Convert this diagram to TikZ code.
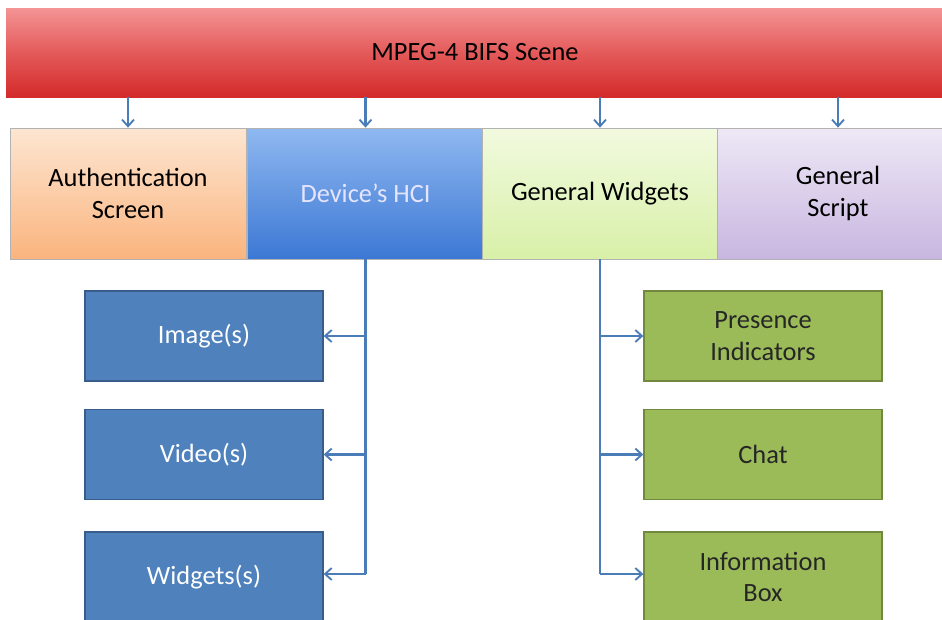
\documentclass[tikz,border=0pt]{standalone}
\usepackage{fontspec}
\setmainfont{Carlito}
\usetikzlibrary{arrows.meta}
\definecolor{arrowc}{HTML}{4A7DB8}
\definecolor{bluebox}{HTML}{4F81BD}
\definecolor{blueedge}{HTML}{385D8A}
\definecolor{greenbox}{HTML}{9BBB59}
\definecolor{greenedge}{HTML}{71893F}
\definecolor{redtop}{HTML}{F49494}
\definecolor{redmid}{HTML}{E45A5A}
\definecolor{redbot}{HTML}{D42A2A}
\definecolor{authtop}{HTML}{FDE6D2}
\definecolor{authbot}{HTML}{FAB47E}
\definecolor{devtop}{HTML}{8FB8F0}
\definecolor{devbot}{HTML}{3C78D4}
\definecolor{gwtop}{HTML}{F2FADF}
\definecolor{gwbot}{HTML}{D8F0A8}
\definecolor{gstop}{HTML}{EEE8F6}
\definecolor{gsbot}{HTML}{C8B6E0}
\tikzset{
  lbl/.style={font=\fontsize{19.8}{23.5}\selectfont, align=center, inner sep=0pt},
  banner/.style={lbl, minimum width=703.5pt, minimum height=66.75pt,
    top color=redtop, bottom color=redbot, middle color=redmid, draw=none},
  tier/.style={lbl, minimum width=177pt, minimum height=98.25pt, draw=gray!60, line width=0.6pt},
  leaf/.style={lbl, minimum width=178.5pt, minimum height=67.5pt, line width=1pt},
  bleaf/.style={leaf, fill=bluebox, draw=blueedge, text=white},
  gleaf/.style={leaf, fill=greenbox, draw=greenedge, text=black!85},
  arr/.style={draw=arrowc, line width=1.6pt, -{Straight Barb[length=5pt,width=9pt,line width=1.4pt]}},
  trunk/.style={draw=arrowc, line width=1.6pt}
}
\begin{document}
\begin{tikzpicture}[x=0.75pt,y=-0.75pt]
\useasboundingbox (0,0) rectangle (942,619);
\clip (0,0) rectangle (942,619);
\fill[white] (0,0) rectangle (942,619);
% banner
\node[banner] (ban) at (475,52.5) {MPEG-4 BIFS Scene};
% second tier
\node[tier, top color=authtop, bottom color=authbot] (auth) at (128,193.5) {Authentication\\Screen};
\node[tier, top color=devtop, bottom color=devbot, text=white!90!blue] (dev) at (365.5,193.5) {Device's HCI};
\node[tier, top color=gwtop, bottom color=gwbot] (gw) at (600,193.5) {General Widgets};
\node[tier, top color=gstop, bottom color=gsbot, minimum width=181.5pt] (gs) at (838,193.5) {General\\Script};
% banner arrows
\draw[arr] (ban.south -| auth.north) -- (auth.north);
\draw[arr] (ban.south -| dev.north) -- (dev.north);
\draw[arr] (ban.south -| gw.north) -- (gw.north);
\draw[arr] (ban.south -| gs.north) -- (gs.north);
% left leaves
\node[bleaf] (img) at (204,336) {Image(s)};
\node[bleaf] (vid) at (204,454.5) {Video(s)};
\node[bleaf] (wdg) at (204,577) {Widgets(s)};
% right leaves
\node[gleaf] (pres) at (763,336) {Presence\\Indicators};
\node[gleaf] (chat) at (763,454.5) {Chat};
\node[gleaf] (info) at (763,577) {Information\\Box};
% left tree
\draw[trunk] (dev.south) -- (dev.south |- 0,574);
\coordinate (l1) at (dev.south |- img.east);
\coordinate (l2) at (dev.south |- vid.east);
\coordinate (l3) at (dev.south |- 0,574);
\draw[arr] (l1) -- (img.east);
\draw[arr] (l2) -- (vid.east);
\draw[arr] (l3) -- (wdg.east |- l3);
% right tree
\draw[trunk] (gw.south) -- (gw.south |- 0,574);
\coordinate (r1) at (gw.south |- pres.west);
\coordinate (r2) at (gw.south |- chat.west);
\coordinate (r3) at (gw.south |- 0,574);
\draw[arr] (r1) -- (pres.west);
\draw[arr] (r2) -- (chat.west);
\draw[arr] (r3) -- (info.west |- r3);
\end{tikzpicture}
\end{document}
